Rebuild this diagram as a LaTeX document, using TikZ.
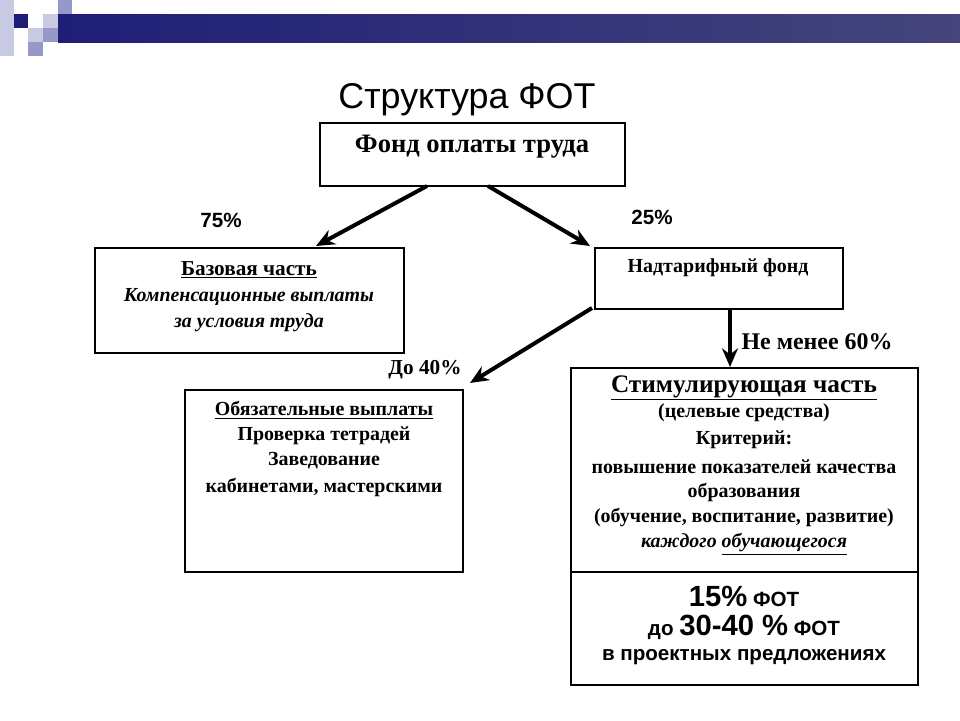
\documentclass[tikz,border=0pt]{standalone}
\usepackage{fontspec}
\setmainfont{Liberation Serif}
\newfontfamily\headfont{Liberation Sans}
\usepackage{tikz}
\usetikzlibrary{positioning,calc,arrows.meta}
\definecolor{navy}{RGB}{30,30,120}
\definecolor{lav}{RGB}{200,202,228}
\definecolor{midlav}{RGB}{150,152,200}
\tikzset{
  fotbox/.style={draw=black,line width=1.2pt},
  fotarrow/.style={-{Stealth[length=14pt,width=12pt]},line width=3pt},
  txt/.style={anchor=center,inner sep=0pt,font=\fontsize{15}{17}\selectfont\bfseries},
  txti/.style={txt,font=\fontsize{15}{17}\selectfont\bfseries\itshape},
  sans/.style={txt,font=\headfont\fontsize{15.5}{18}\selectfont\bfseries},
}
\newcommand{\ul}[1]{\underline{#1}}
\begin{document}
\begin{tikzpicture}[x=0.02646cm,y=-0.02646cm]
\useasboundingbox (0,0) rectangle (960,720);
% decoration
\fill[lav] (0,0) rectangle (14,56);
\fill[navy] (14,14) rectangle (28,28);
\fill[lav] (43,14) rectangle (58,28);
\fill[midlav] (58,0) rectangle (72,28);
\fill[midlav] (43,28) rectangle (58,42);
\fill[lav] (28,28) rectangle (43,42);
\fill[midlav] (28,42) rectangle (43,56);
\shade[left color=navy,right color=navy!60!gray] (58,14) rectangle (960,42);
% title
\node[font=\headfont\fontsize{27}{30}\selectfont] (title) at (467,100) {Структура ФОТ};
% boxes
\draw[fotbox] (320,123) rectangle (625,186);
\coordinate (fondL) at (427,186);
\coordinate (fondR) at (488,186);
\node[txt,font=\fontsize{20}{22}\selectfont\bfseries] (fondT) at (472,147) {Фонд оплаты труда};
\draw[fotbox] (95,248) rectangle (404,353);
\node[txt,font=\fontsize{16}{18}\selectfont\bfseries] (bazA) at (249,270) {\ul{Базовая часть}};
\node[txti] (bazB) at (249,297) {Компенсационные выплаты};
\node[txti] (bazC) at (249,323) {за условия труда};
\coordinate (baz) at (316,246);
\draw[fotbox] (595,248) rectangle (843,309);
\node[txt] (nadT) at (718,268) {Надтарифный фонд};
\coordinate (nad) at (590,246);
\coordinate (nadL) at (592,308);
\coordinate (nadB) at (730,310);
\draw[fotbox] (185,390) rectangle (463,572);
\node[txt] (obA) at (324,410) {\ul{Обязательные выплаты}};
\node[txt] (obB) at (324,436) {Проверка тетрадей};
\node[txt] (obC) at (324,461) {Заведование};
\node[txt] (obD) at (324,487) {кабинетами, мастерскими};
\coordinate (ob) at (470,383);
\draw[fotbox] (571,368) rectangle (918,572);
\draw[fotbox] (571,572) rectangle (918,685);
\coordinate (stim) at (730,367);
\node[txt,font=\fontsize{19}{21}\selectfont\bfseries] (stA) at (744,388) {\ul{Стимулирующая часть}};
\node[txt] (stB) at (744,413) {(целевые средства)};
\node[txt] (stC) at (744,440) {Критерий:};
\node[txt] (stD) at (744,467) {повышение показателей качества};
\node[txt] (stE) at (744,492) {образования};
\node[txt] (stF) at (744,518) {(обучение, воспитание, развитие)};
\node[txti] (stG) at (744,544) {каждого \ul{обучающегося}};
\node[sans] (prA) at (744,596) {{\fontsize{22}{24}\selectfont 15\%} ФОТ};
\node[sans] (prB) at (744,627) {до {\fontsize{22}{24}\selectfont 30-40 \%} ФОТ};
\node[sans] (prC) at (744,657) {в проектных предложениях};
% labels
\node[txt,font=\headfont\fontsize{15.5}{17}\selectfont\bfseries] (p75) at (221,220) {75\%};
\node[txt,font=\headfont\fontsize{15.5}{17}\selectfont\bfseries] (p25) at (652,217) {25\%};
\node[txt,font=\fontsize{16}{18}\selectfont\bfseries] (p40) at (425,370) {До 40\%};
\node[txt,font=\fontsize{18}{20}\selectfont\bfseries] (p60) at (817,342) {Не менее 60\%};
% arrows
\draw[fotarrow] (fondL) -- (baz);
\draw[fotarrow] (fondR) -- (nad);
\draw[fotarrow] (nadL) -- (ob);
\draw[fotarrow] (nadB) -- (stim);
\end{tikzpicture}
\end{document}
